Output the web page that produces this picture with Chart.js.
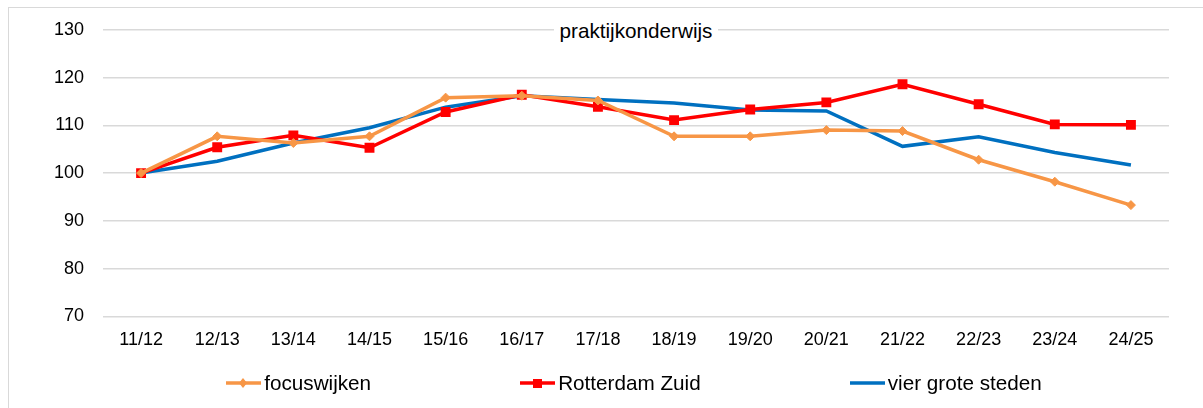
<!DOCTYPE html>
<html>
<head>
<meta charset="utf-8">
<script src="https://cdn.jsdelivr.net/npm/chart.js@4/dist/chart.umd.min.js"></script>
<style>
  html, body { margin: 0; padding: 0; background: #fff; overflow: hidden; }
  body { width: 1203px; height: 408px; position: relative; font-family: "Liberation Sans", Arial, sans-serif; }
  #frame { position: absolute; left: 8px; top: 7px; width: 1300px; height: 500px; border: 1px solid #d9d9d9; box-sizing: border-box; pointer-events: none; }
  #chart { position: absolute; left: 0; top: 0; width: 1203px; height: 408px; }
  #title { position: absolute; top: 19px; left: 0; width: 1272px; text-align: center; line-height: 24px; font-size: 20.7px; color: #000; pointer-events: none; }
  #title span { background: #fff; padding: 0 6px; }
  #legend { position: absolute; left: 101px; width: 1066px; top: 371px; height: 24px; display: flex; justify-content: center; gap: 149px; font-size: 20.7px; line-height: 24px; color: #000; }
  #legend .item { display: flex; align-items: center; white-space: nowrap; }
  #legend svg { margin-right: 3px; }
</style>
</head>
<body>
<div id="frame"></div>
<canvas id="chart" width="1203" height="408"></canvas>
<div id="title"><span>praktijkonderwijs</span></div>
<div id="legend"></div>
<script>
// schooljaren op de x-as
const jaren = ['11/12', '12/13', '13/14', '14/15', '15/16', '16/17', '17/18', '18/19', '19/20', '20/21', '21/22', '22/23', '23/24', '24/25'];

// index per gebied (11/12 = 100)
const focuswijken = [100, 107.7, 106.3, 107.7, 115.8, 116.2, 115.2, 107.7, 107.7, 109.0, 108.8, 102.8, 98.2, 93.3];
const rotterdamZuid = [100, 105.4, 107.9, 105.3, 112.8, 116.4, 113.9, 111.1, 113.3, 114.8, 118.6, 114.4, 110.2, 110.1];
const vierGroteSteden = [100, 102.5, 106.3, 109.5, 113.8, 116.2, 115.4, 114.7, 113.2, 113.0, 105.6, 107.6, 104.3, 101.7];

const yTicks = [70, 80, 90, 100, 110, 120, 130];

const ctx = document.getElementById('chart');

const data_lines = {
  labels: jaren,
  datasets: [{
    label: 'focuswijken',
    data: focuswijken,
    borderColor: 'rgb(247, 150, 70)',
    backgroundColor: 'rgb(247, 150, 70)',
    borderWidth: 3.5,
    pointStyle: 'rectRot',
    pointRadius: 4.5,
    pointBorderWidth: 1,
    tension: 0
  }, {
    label: 'Rotterdam Zuid',
    data: rotterdamZuid,
    borderColor: 'rgb(255, 0, 0)',
    backgroundColor: 'rgb(255, 0, 0)',
    borderWidth: 3.5,
    pointStyle: 'rect',
    pointRadius: 7,
    pointBorderWidth: 0,
    tension: 0
  }, {
    label: 'vier grote steden',
    data: vierGroteSteden,
    borderColor: 'rgb(0, 112, 192)',
    backgroundColor: 'rgb(0, 112, 192)',
    borderWidth: 3.5,
    pointRadius: 0,
    tension: 0
  }]
};

const chart = new Chart(ctx, {
  type: 'line',
  data: data_lines,
  options: {
    responsive: false,
    animation: false,
    devicePixelRatio: 1,
    layout: { padding: { top: 29, right: 34, bottom: 44, left: 0 } },
    plugins: {
      legend: { display: false },
      title: { display: false },
      tooltip: { enabled: false }
    },
    scales: {
      x: {
        offset: true,
        grid: { display: false, drawTicks: false },
        border: { display: false },
        ticks: { color: '#000', font: { family: 'Liberation Sans', size: 18 }, padding: 13, maxRotation: 0, autoSkip: false }
      },
      y: {
        min: 70,
        max: 130,
        afterBuildTicks: (scale) => { scale.ticks = yTicks.map(v => ({ value: v })); },
        afterFit: (scale) => { scale.width = 103; },
        grid: { color: '#d9d9d9', lineWidth: 1.5, drawTicks: false },
        border: { display: false },
        ticks: { color: '#000', font: { family: 'Liberation Sans', size: 18 }, padding: 19 }
      }
    }
  }
});

// legenda met lijn + marker, zoals in Excel
const legend = document.getElementById('legend');
chart.data.datasets.forEach(ds => {
  const item = document.createElement('div');
  item.className = 'item';
  let marker = '';
  if (ds.pointStyle === 'rectRot') {
    marker = `<polygon points="17,5 21,10 17,15 13,10" fill="${ds.borderColor}"/>`;
  } else if (ds.pointStyle === 'rect') {
    marker = `<rect x="13" y="6" width="9" height="9" fill="${ds.borderColor}"/>`;
  }
  item.innerHTML = `<svg width="35" height="20"><line x1="0" y1="10" x2="35" y2="10" stroke="${ds.borderColor}" stroke-width="3.5"/>${marker}</svg><span>${ds.label}</span>`;
  legend.appendChild(item);
});
</script>
</body>
</html>
